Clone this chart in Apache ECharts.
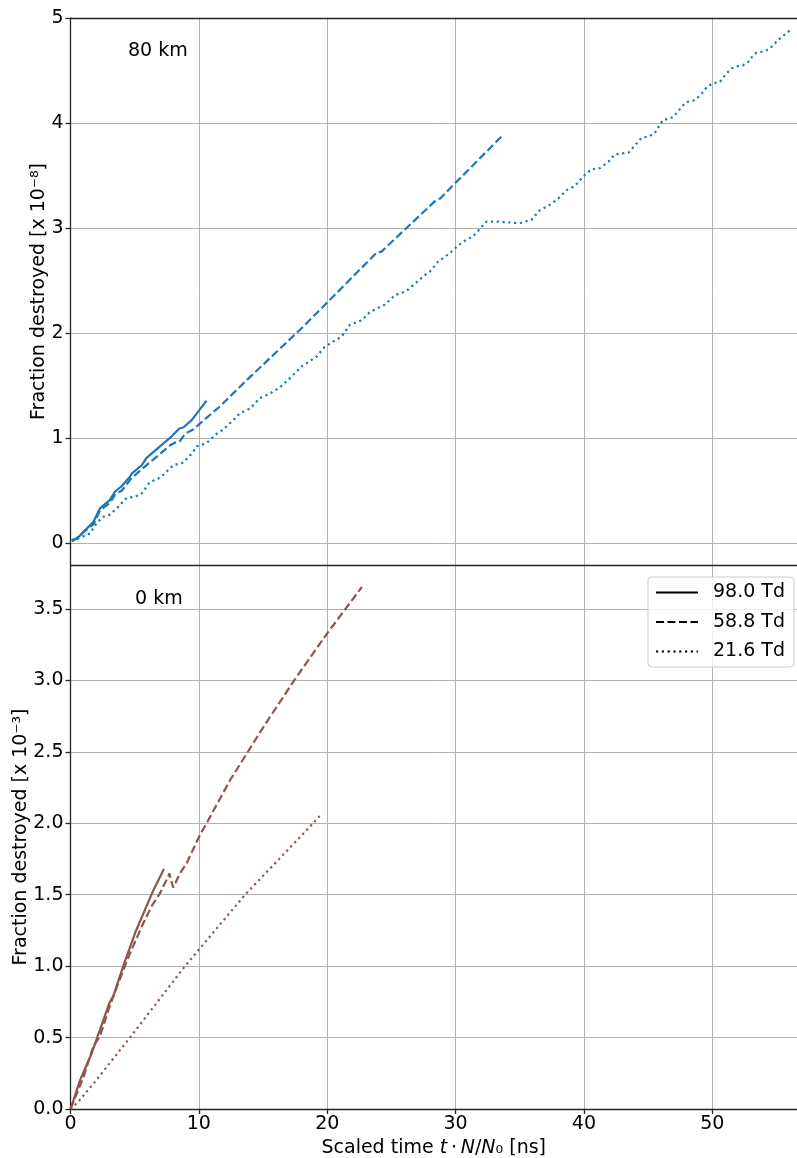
<!DOCTYPE html>
<html>
<head>
<meta charset="utf-8">
<script src="https://cdn.jsdelivr.net/npm/echarts@6/dist/echarts.min.js"></script>
<style>
  html, body { margin: 0; padding: 0; background: #fff; }
  #chart { width: 797px; height: 1158px; }
</style>
</head>
<body>
<div id="chart"></div>
<script>
// Scaled time [ns] vs. fraction destroyed, two altitudes.
const xTicks = [0, 10, 20, 30, 40, 50];
const topTicks = [0, 1, 2, 3, 4, 5];               // x 1e-8
const bottomTicks = [0, 0.5, 1, 1.5, 2, 2.5, 3, 3.5]; // x 1e-3
const legendNames = ['98.0 Td', '58.8 Td', '21.6 Td'];

// 80 km, fraction destroyed [x 1e-8]
const km80_td98 = [[0.1,0.03],[0.5,0.04],[1.13,0.12],[1.78,0.2],[2.3,0.33],[3.07,0.41],[3.47,0.49],[3.98,0.54],[4.63,0.63],[4.77,0.66],[5.54,0.74],[5.93,0.81],[6.97,0.92],[7.75,1.0],[8.48,1.09],[8.79,1.10],[9.44,1.17],[10.6,1.355]];
const km80_td59 = [[0.1,0.02],[0.3,0.03],[1.0,0.1],[1.8,0.18],[2.3,0.31],[3.07,0.38],[3.47,0.46],[4.0,0.5],[4.77,0.62],[5.54,0.7],[6.2,0.77],[7.0,0.85],[7.75,0.93],[8.14,0.955],[8.5,0.965],[8.92,1.04],[9.56,1.08],[10.34,1.165],[11.64,1.3],[13.72,1.55],[18.0,2.045],[20.08,2.30],[23.85,2.765],[24.23,2.775],[28.52,3.27],[28.8,3.28],[30.08,3.44],[33.7,3.886]];
const km80_td22 = [[0.1,0.02],[0.35,0.03],[1.52,0.09],[2.04,0.19],[2.55,0.25],[3.07,0.27],[3.6,0.33],[4.38,0.43],[5.02,0.44],[5.54,0.47],[6.19,0.58],[6.97,0.62],[7.49,0.68],[8.0,0.74],[8.79,0.765],[9.44,0.85],[9.83,0.92],[10.6,0.95],[11.39,1.04],[11.9,1.08],[12.68,1.17],[13.2,1.235],[13.98,1.28],[14.76,1.38],[15.5,1.42],[16.3,1.48],[17.1,1.57],[18.0,1.68],[19.17,1.775],[19.82,1.87],[21.12,1.965],[21.77,2.08],[22.68,2.12],[23.33,2.2],[24.5,2.27],[25.27,2.36],[26.18,2.40],[26.83,2.47],[27.6,2.55],[28.0,2.585],[28.64,2.68],[29.56,2.76],[30.08,2.82],[30.6,2.87],[31.37,2.92],[32.02,3.01],[32.41,3.06],[33.45,3.06],[35.0,3.045],[35.92,3.08],[36.57,3.17],[37.35,3.22],[38.0,3.28],[38.65,3.36],[39.3,3.40],[39.94,3.49],[40.6,3.56],[41.24,3.57],[41.9,3.63],[42.4,3.7],[43.0,3.71],[43.5,3.72],[44.0,3.79],[44.5,3.86],[45.0,3.87],[45.5,3.9],[45.9,3.98],[46.17,4.03],[46.6,4.04],[47.0,4.06],[47.34,4.11],[47.65,4.16],[48.0,4.2],[48.5,4.21],[48.9,4.245],[49.24,4.29],[49.55,4.34],[50.06,4.38],[50.58,4.39],[51.1,4.47],[51.5,4.52],[51.9,4.54],[52.4,4.55],[52.79,4.58],[53.1,4.63],[53.44,4.67],[53.96,4.68],[54.4,4.70],[54.74,4.74],[55.13,4.79],[55.5,4.83],[55.86,4.86],[56.1,4.89]];

// 0 km, fraction destroyed [x 1e-3]
const km0_td98 = [[0,0],[0.74,0.2],[1.65,0.39],[2.55,0.62],[3.02,0.74],[3.33,0.79],[4.11,1.0],[5.02,1.23],[6.45,1.53],[7.28,1.68]];
const km0_td59 = [[0,0],[1.0,0.22],[1.78,0.44],[2.3,0.51],[2.94,0.69],[3.72,0.88],[4.63,1.09],[5.67,1.30],[6.32,1.42],[6.97,1.51],[7.62,1.63],[7.7,1.65],[8.0,1.55],[8.14,1.556],[8.53,1.65],[9.05,1.72],[10.09,1.92],[10.6,2.0],[12.42,2.30],[15,2.67],[17.5,3.01],[20,3.33],[22.7,3.654]];
const km0_td22 = [[0,0],[0.6,0.05],[1.9,0.19],[4.63,0.5],[8.92,1.0],[13.6,1.5],[18.9,2.0],[19.5,2.06]];

const FONT = 'DejaVu Sans';
const BLUE = '#1f77b4';
const BROWN = '#8c564b';
const GRIDLINE = '#b0b0b0';
const SPINE = '#262626';
const LW = 2.2;
const DASH = [8, 3.5];
const DOT = [2.2, 3.6];
const X_MAX = 56.6;

const spine = { show: true, onZero: false, lineStyle: { color: SPINE, width: 1.3 } };
const grid = { show: true, lineStyle: { color: GRIDLINE, width: 1 } };
const tick = { show: true, length: 5, lineStyle: { color: SPINE, width: 1.3 } };
const labelFont = { fontFamily: FONT, fontSize: 19, color: '#000' };

function lineSeries(name, data, color, type, xi, yi) {
  return {
    name, type: 'line', data, xAxisIndex: xi, yAxisIndex: yi,
    symbol: 'none', showSymbol: false, clip: true,
    lineStyle: { color, width: LW, type, cap: 'butt' },
    itemStyle: { color },
    emphasis: { disabled: true }
  };
}

const chart = echarts.init(document.getElementById('chart'), null, { renderer: 'canvas' });
chart.setOption({
  animation: false,
  backgroundColor: '#fff',
  textStyle: { fontFamily: FONT },
  grid: [
    { left: 70.5, right: 0, top: 18, height: 547, outerBoundsMode: 'none', containLabel: false },
    { left: 70.5, right: 0, top: 565, height: 544, outerBoundsMode: 'none', containLabel: false }
  ],
  xAxis: [
    { // top panel: top spine + vertical grid
      type: 'value', gridIndex: 0, position: 'top', min: 0, max: X_MAX,
      axisLine: spine, axisTick: { show: false, customValues: xTicks },
      axisLabel: { show: false, customValues: xTicks },
      splitLine: grid
    },
    { // bottom panel: labelled time axis
      type: 'value', gridIndex: 1, position: 'bottom', min: 0, max: X_MAX,
      axisLine: spine,
      axisTick: Object.assign({ customValues: xTicks }, tick),
      axisLabel: Object.assign({ customValues: xTicks, margin: 6 }, labelFont),
      splitLine: grid,
      name: 'Scaled time {i|t}\u2009\u22c5\u2009{i|N}/{i|N}\u2080 [ns]',
      nameLocation: 'middle', nameGap: 30,
      nameTextStyle: {
        fontFamily: FONT, fontSize: 19, color: '#000',
        rich: { i: { fontFamily: FONT, fontSize: 19, fontStyle: 'italic', color: '#000' } }
      }
    },
    { // divider between the panels
      type: 'value', gridIndex: 1, position: 'top', min: 0, max: X_MAX,
      axisLine: spine, axisTick: { show: false }, axisLabel: { show: false }, splitLine: { show: false }
    }
  ],
  yAxis: [
    {
      type: 'value', gridIndex: 0, min: -0.21, max: 5,
      axisLine: spine,
      axisTick: Object.assign({ customValues: topTicks }, tick),
      axisLabel: Object.assign({ customValues: topTicks, margin: 7 }, labelFont),
      splitLine: grid,
      name: 'Fraction destroyed [x 10\u207b\u2078]',
      nameLocation: 'middle', nameGap: 22, nameRotate: 90, nameMoveOverlap: false,
      nameTextStyle: { fontFamily: FONT, fontSize: 19, color: '#000' }
    },
    {
      type: 'value', gridIndex: 1, min: 0, max: 3.808,
      axisLine: spine,
      axisTick: Object.assign({ customValues: bottomTicks }, tick),
      axisLabel: Object.assign({ customValues: bottomTicks, margin: 7, formatter: v => v.toFixed(1) }, labelFont),
      splitLine: grid,
      name: 'Fraction destroyed [x 10\u207b\u00b3]',
      nameLocation: 'middle', nameGap: 40, nameRotate: 90, nameMoveOverlap: false,
      nameTextStyle: { fontFamily: FONT, fontSize: 19, color: '#000' }
    }
  ],
  legend: {
    data: legendNames,
    orient: 'vertical', right: 3, top: 577,
    itemWidth: 42, itemHeight: 14, itemGap: 10.5,
    padding: [6, 9, 6, 7],
    backgroundColor: 'rgba(255,255,255,0.8)',
    borderColor: '#cccccc', borderWidth: 1, borderRadius: 4,
    itemStyle: { opacity: 0, color: 'transparent', borderWidth: 0 },
    textStyle: { fontFamily: FONT, fontSize: 19, color: '#000', padding: [0, 0, 0, 10] },
    selectedMode: false
  },
  graphic: [
    { type: 'text', left: 128, top: 42, style: { text: '80 km', font: '19px "DejaVu Sans"', fill: '#000' } },
    { type: 'text', left: 135, top: 590, style: { text: '0 km', font: '19px "DejaVu Sans"', fill: '#000' } }
  ],
  series: [
    lineSeries('80 km 98.0 Td', km80_td98, BLUE, 'solid', 0, 0),
    lineSeries('80 km 58.8 Td', km80_td59, BLUE, DASH, 0, 0),
    lineSeries('80 km 21.6 Td', km80_td22, BLUE, DOT, 0, 0),
    lineSeries('0 km 98.0 Td', km0_td98, BROWN, 'solid', 1, 1),
    lineSeries('0 km 58.8 Td', km0_td59, BROWN, DASH, 1, 1),
    lineSeries('0 km 21.6 Td', km0_td22, BROWN, DOT, 1, 1),
    // legend keys drawn in black
    lineSeries(legendNames[0], [], '#000', 'solid', 1, 1),
    lineSeries(legendNames[1], [], '#000', DASH, 1, 1),
    lineSeries(legendNames[2], [], '#000', DOT, 1, 1)
  ]
});
</script>
</body>
</html>
